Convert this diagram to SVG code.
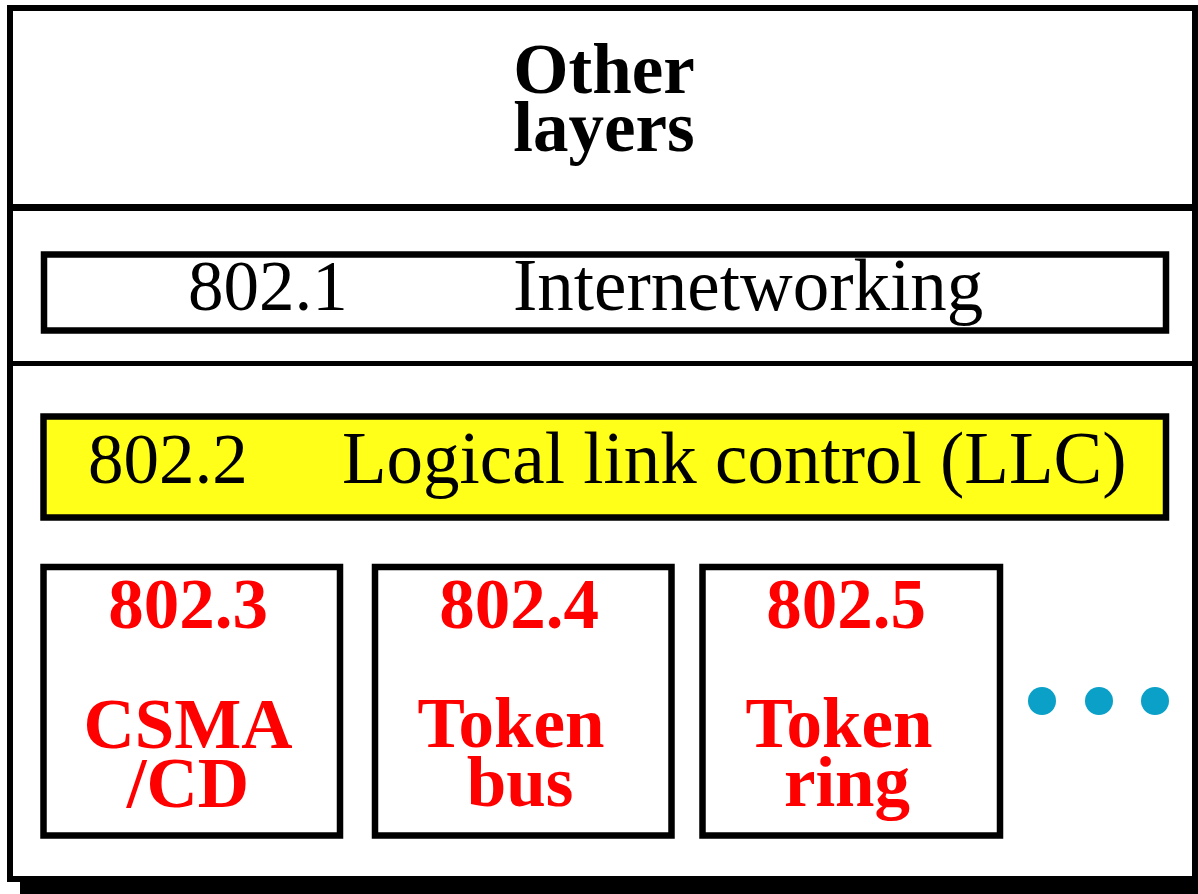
<svg xmlns="http://www.w3.org/2000/svg" width="1198" height="894" viewBox="0 0 1198 894">
<style>
.box{fill:#fff;stroke:#000;stroke-width:6.5}
.llc{fill:#ffff1a;stroke:#000;stroke-width:6.5}
.reg{font-family:"Liberation Serif",serif;font-size:71px;fill:#000}
.wide{font-size:73px}
.bold{font-family:"Liberation Serif",serif;font-size:71px;font-weight:bold}
.red{font-family:"Liberation Serif",serif;font-size:71px;font-weight:bold;fill:#ff0000;text-anchor:middle}
.dot{fill:#0aa0c8}
</style>
<rect width="1198" height="894" fill="#fff"/>
<g id="frame">
<rect x="20" y="880" width="1178" height="14" fill="#000"/>
<rect x="10" y="8" width="1185" height="871" fill="#fff" stroke="#000" stroke-width="6"/>
<line x1="10" y1="207.5" x2="1195" y2="207.5" stroke="#000" stroke-width="7"/>
<line x1="10" y1="363.5" x2="1195" y2="363.5" stroke="#000" stroke-width="5"/>
</g>
<g id="other-layers">
<text class="bold" x="604" y="93" text-anchor="middle">Other</text>
<text class="bold" x="604" y="151" text-anchor="middle">layers</text>
</g>
<g id="internetworking">
<rect class="box" x="44" y="254.5" width="1122" height="76"/>
<text class="reg" x="188" y="310">802.1</text>
<text class="reg wide" x="513" y="310">Internetworking</text>
</g>
<g id="llc">
<rect class="llc" x="43.5" y="416.5" width="1122.5" height="101"/>
<text class="reg" x="88" y="483">802.2</text>
<text class="reg wide" x="342" y="483">Logical link control (LLC)</text>
</g>
<g id="csma">
<rect class="box" x="43.5" y="567" width="296.5" height="268.5"/>
<text class="red" x="188" y="628">802.3</text>
<text class="red" x="188" y="748">CSMA</text>
<text class="red" x="188" y="807">/CD</text>
</g>
<g id="tokenbus">
<rect class="box" x="375" y="567" width="296.5" height="268.5"/>
<text class="red" x="519" y="628">802.4</text>
<text class="red" x="511" y="747">Token</text>
<text class="red" x="520" y="806">bus</text>
</g>
<g id="tokenring">
<rect class="box" x="702.5" y="567" width="297.5" height="268.5"/>
<text class="red" x="846" y="628">802.5</text>
<text class="red" x="839" y="747">Token</text>
<text class="red" x="847" y="806">ring</text>
</g>
<g id="ellipsis">
<circle class="dot" cx="1042" cy="701" r="14"/>
<circle class="dot" cx="1099" cy="701" r="14"/>
<circle class="dot" cx="1155" cy="701" r="14"/>
</g>
<g id="connectors"></g>
</svg>
